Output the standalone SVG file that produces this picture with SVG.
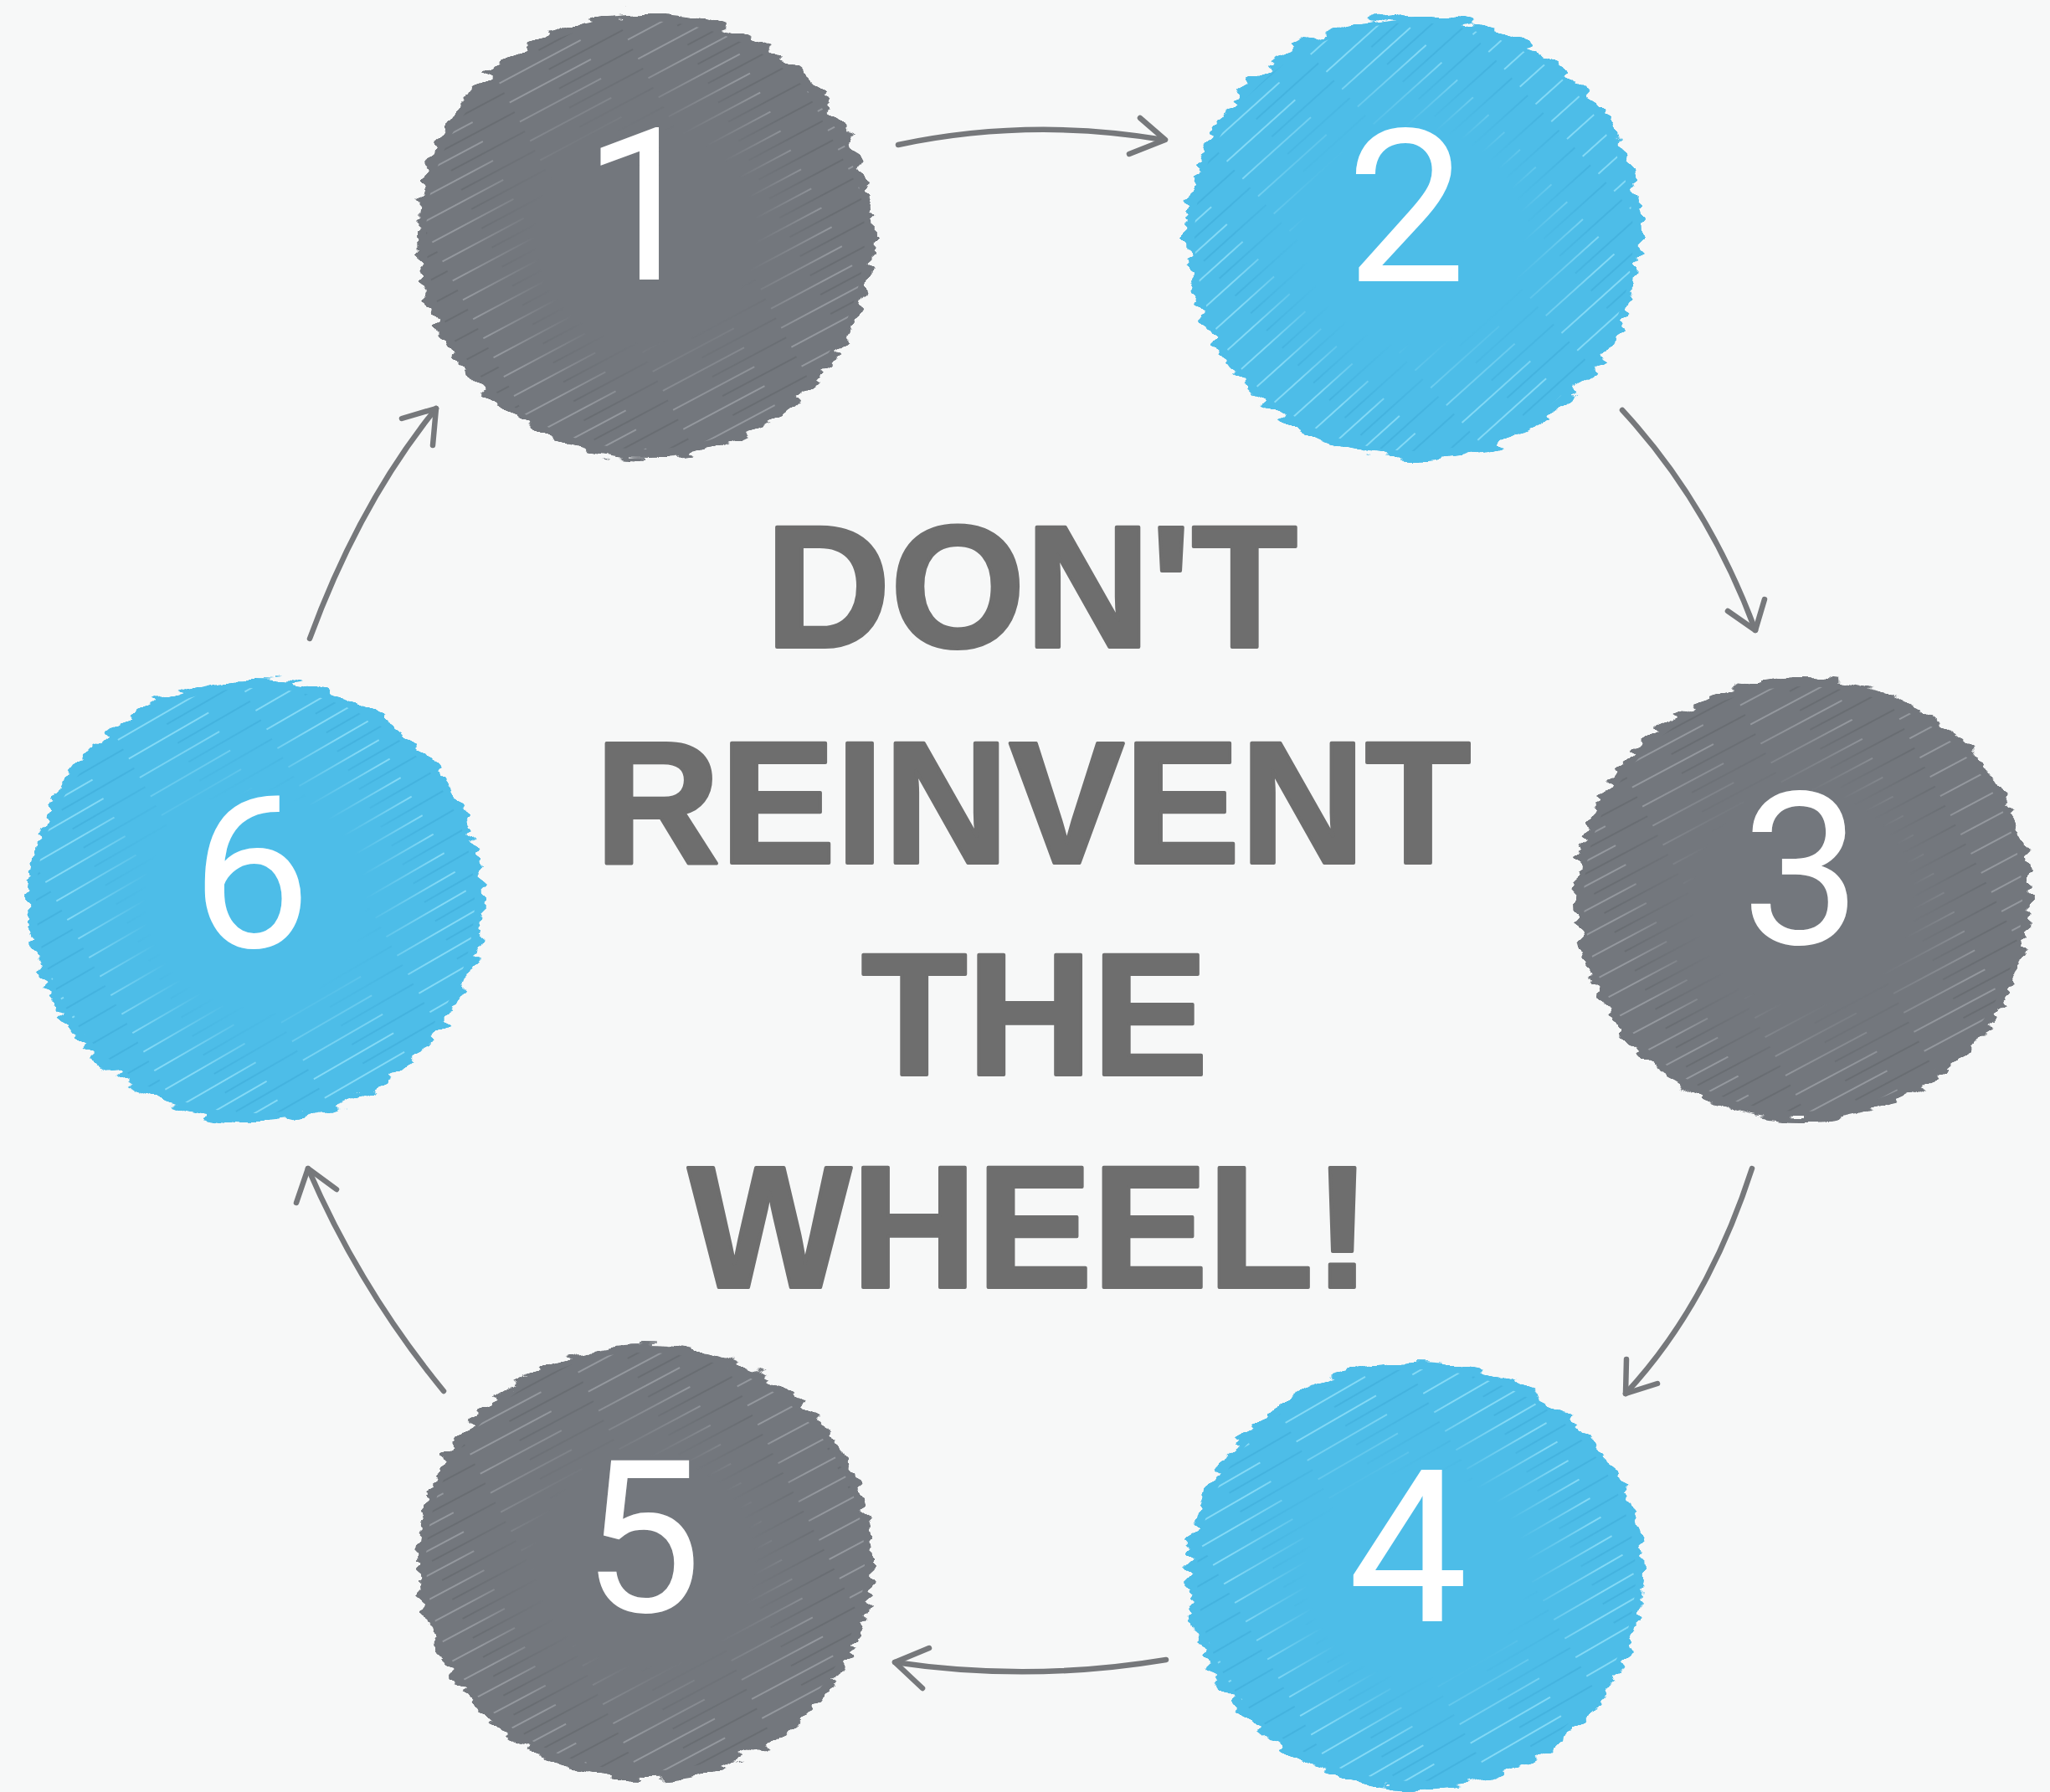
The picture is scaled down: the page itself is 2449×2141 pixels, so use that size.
<svg xmlns="http://www.w3.org/2000/svg" width="2449" height="2141" viewBox="0 0 2449 2141">
  <defs>
    <style>
      .num { font-family: Roboto, "Liberation Sans", Arial, sans-serif; font-size: 255px; fill: #ffffff; text-anchor: middle; }
      .title { font-family: "Liberation Sans", Arial, sans-serif; font-weight: bold; font-size: 207px; fill: #6e6e6e; stroke: #6e6e6e; stroke-width: 4; stroke-linejoin: round; text-anchor: middle; }
      .conn { fill: none; stroke: #76787b; stroke-width: 6.5; stroke-linecap: round; stroke-linejoin: round; }
      .grey { fill: #73777d; }
      .blue { fill: #4dbde8; }
    </style>
    <pattern id="hatchGrey" patternUnits="userSpaceOnUse" width="160" height="26" patternTransform="rotate(-28)">
      <line x1="0" y1="4" x2="110" y2="4" stroke="#b3b7bc" stroke-width="1.6" opacity="0.7"/>
      <line x1="60" y1="17" x2="160" y2="17" stroke="#5c6066" stroke-width="2.2" opacity="0.45"/>
    </pattern>
    <pattern id="hatchBlue" patternUnits="userSpaceOnUse" width="160" height="26" patternTransform="rotate(-30)">
      <line x1="0" y1="4" x2="110" y2="4" stroke="#a8ecff" stroke-width="1.6" opacity="0.8"/>
      <line x1="60" y1="17" x2="160" y2="17" stroke="#38a6d4" stroke-width="2.2" opacity="0.45"/>
    </pattern>
    <pattern id="hatchBlue2" patternUnits="userSpaceOnUse" width="160" height="28" patternTransform="rotate(-42)">
      <line x1="0" y1="4" x2="110" y2="4" stroke="#a8ecff" stroke-width="1.6" opacity="0.8"/>
      <line x1="60" y1="18" x2="160" y2="18" stroke="#38a6d4" stroke-width="2.2" opacity="0.45"/>
    </pattern>
    <radialGradient id="edgeGrad">
      <stop offset="0" stop-color="#000"/>
      <stop offset="0.5" stop-color="#000"/>
      <stop offset="0.85" stop-color="#fff"/>
      <stop offset="1" stop-color="#fff"/>
    </radialGradient>
    <mask id="edgeMask" maskContentUnits="objectBoundingBox">
      <rect x="0" y="0" width="1" height="1" fill="url(#edgeGrad)"/>
    </mask>
    <filter id="rough" x="-10%" y="-10%" width="120%" height="120%">
      <feTurbulence type="fractalNoise" baseFrequency="0.03 0.09" numOctaves="2" seed="3" result="n"/>
      <feDisplacementMap in="SourceGraphic" in2="n" scale="24" xChannelSelector="R" yChannelSelector="G"/>
    </filter>
  </defs>

  <rect x="0" y="0" width="2449" height="2141" fill="#f7f8f8"/>

  <g id="connectors">
    <path class="conn" d="M1073,173 Q1230,140 1390,167"/>
    <path class="conn" d="M1362,141 L1392,167 L1349,184"/>
    <path class="conn" d="M1938,490 Q2040,600 2097,753"/>
    <path class="conn" d="M2108,716 L2097,753 L2064,730"/>
    <path class="conn" d="M2093,1396 Q2040,1560 1942,1665"/>
    <path class="conn" d="M1943,1624 L1942,1665 L1980,1653"/>
    <path class="conn" d="M1393,1983 Q1230,2010 1069,1986"/>
    <path class="conn" d="M1110,1969 L1069,1986 L1102,2017"/>
    <path class="conn" d="M530,1662 Q430,1540 368,1396"/>
    <path class="conn" d="M354,1437 L368,1396 L402,1421"/>
    <path class="conn" d="M370,763 Q430,600 521,488"/>
    <path class="conn" d="M480,500 L521,488 L517,532"/>
  </g>

  <g id="node1">
    <ellipse class="grey" cx="771" cy="281" rx="272" ry="266" filter="url(#rough)"/>
    <ellipse cx="771" cy="281" rx="262" ry="256" fill="url(#hatchGrey)" mask="url(#edgeMask)"/>
    <text class="num" x="768" y="334">1</text>
  </g>

  <g id="node2">
    <ellipse class="blue" cx="1689" cy="283" rx="272" ry="266" filter="url(#rough)"/>
    <ellipse cx="1689" cy="283" rx="262" ry="256" fill="url(#hatchBlue2)" mask="url(#edgeMask)"/>
    <text class="num" x="1680" y="336">2</text>
  </g>

  <g id="node3">
    <ellipse class="grey" cx="2154" cy="1074" rx="272" ry="264" filter="url(#rough)"/>
    <ellipse cx="2154" cy="1074" rx="262" ry="254" fill="url(#hatchGrey)" mask="url(#edgeMask)"/>
    <text class="num" x="2152" y="1128">3</text>
  </g>

  <g id="node4">
    <ellipse class="blue" cx="1692" cy="1882" rx="272" ry="256" filter="url(#rough)"/>
    <ellipse cx="1692" cy="1882" rx="262" ry="246" fill="url(#hatchBlue)" mask="url(#edgeMask)"/>
    <text class="num" x="1682" y="1937">4</text>
  </g>

  <g id="node5">
    <ellipse class="grey" cx="771" cy="1866" rx="272" ry="260" filter="url(#rough)"/>
    <ellipse cx="771" cy="1866" rx="262" ry="250" fill="url(#hatchGrey)" mask="url(#edgeMask)"/>
    <text class="num" x="767" y="1926">5</text>
  </g>

  <g id="node6">
    <ellipse class="blue" cx="305" cy="1076" rx="272" ry="264" filter="url(#rough)"/>
    <ellipse cx="305" cy="1076" rx="262" ry="254" fill="url(#hatchBlue)" mask="url(#edgeMask)"/>
    <text class="num" x="300" y="1132">6</text>
  </g>

  <g id="title">
    <text class="title" x="1232" y="773">DON'T</text>
    <text class="title" x="1234" y="1031">REINVENT</text>
    <text class="title" x="1236" y="1284">THE</text>
    <text class="title" x="1230" y="1538">WHEEL!</text>
  </g>
</svg>
